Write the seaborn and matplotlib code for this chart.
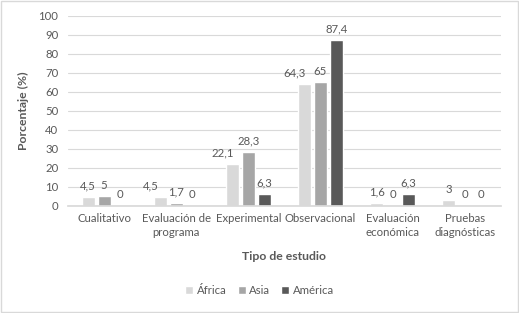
import pandas as pd
import matplotlib.pyplot as plt
import seaborn as sns
from matplotlib.patches import Rectangle

# data
categorias = ["Cualitativo", "Evaluación de\nprograma", "Experimental", "Observacional",
              "Evaluación\neconómica", "Pruebas\ndiagnósticas"]
regiones = ["África", "Asia", "América"]
africa = [4.5, 4.5, 22.1, 64.3, 1.6, 3]
asia = [5, 1.7, 28.3, 65, 0, 0]
america = [0, 0, 6.3, 87.4, 6.3, 0]

df = pd.DataFrame({
    "Tipo": categorias * 3,
    "Region": [r for r in regiones for _ in categorias],
    "Valor": africa + asia + america,
})

sns.set_theme(style="white")
plt.rcParams["font.family"] = ["Lato", "DejaVu Sans"]
txt = "#595959"
colores = ["#d9d9d9", "#a6a6a6", "#595959"]

fig = plt.figure(figsize=(5.19, 3.13), dpi=100)
ax = fig.add_axes([0.131, 0.342, 0.834, 0.607])
sns.barplot(data=df, x="Tipo", y="Valor", hue="Region", hue_order=regiones,
            palette=colores, width=0.667, ax=ax, legend=True)

# small gap between the bars of a group
for p in ax.patches:
    w = p.get_width()
    p.set_x(p.get_x() + w * 0.095)
    p.set_width(w * 0.81)

fmt = lambda v: f"{v:g}".replace(".", ",")
for k, cont in enumerate(ax.containers):
    labels = [fmt(v) for v in cont.datavalues]
    anns = ax.bar_label(cont, labels=labels, padding=4, fontsize=8.2, color=txt)
    # like Excel, nudge a label left when it would run into its neighbour
    if k == 0:
        for i, a in enumerate(anns):
            if abs(asia[i] - africa[i]) < 8 and len(fmt(africa[i]) + fmt(asia[i])) >= 6:
                a.xyann = (-7, 4)

ax.set_ylim(0, 100)
ax.set_yticks(range(0, 101, 10))
ax.set_xlim(-0.5, 5.5)
ax.yaxis.grid(True, color="#d9d9d9", linewidth=0.8)
ax.set_axisbelow(True)
for s in ["top", "right", "left"]:
    ax.spines[s].set_visible(False)
ax.spines["bottom"].set_color("#d9d9d9")
ax.tick_params(axis="y", length=0, labelsize=8.2, labelcolor=txt, pad=7)
ax.tick_params(axis="x", length=0, labelsize=8.2, labelcolor=txt, pad=5)
for lab in ax.get_xticklabels():
    lab.set_linespacing(1.3)
ax.set_xticks([i - 0.5 for i in range(7)], minor=True)
ax.tick_params(axis="x", which="minor", length=4, color="#d9d9d9")

ax.set_xlabel("Tipo de estudio", fontsize=8.8, fontweight="bold", color=txt, labelpad=10)
ax.set_ylabel("Porcentaje (%)", fontsize=8.8, fontweight="bold", color=txt, labelpad=7)

leg = ax.legend(loc="center", ncol=3, frameon=False, fontsize=8.2, handlelength=0.7,
                handleheight=0.7, handletextpad=0.3, columnspacing=1.0)
for t in leg.get_texts():
    t.set_color(txt)
leg.set_bbox_to_anchor((0.5, 1 - 290 / 313), transform=fig.transFigure)

fig.patches.append(Rectangle((0.002, 0.003), 0.996, 0.994, transform=fig.transFigure,
                             fill=False, edgecolor="#d9d9d9", linewidth=1))

fig.savefig("out.png", dpi=100)
